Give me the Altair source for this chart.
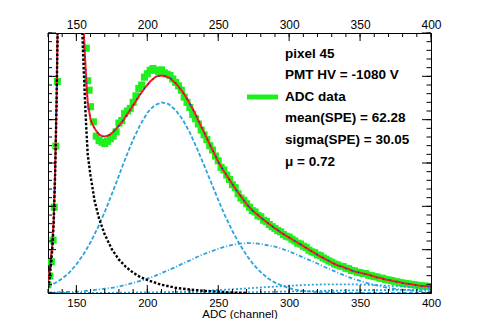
import altair as alt
import pandas as pd

# ---------------- values ----------------
x_major = [150, 200, 250, 300, 350, 400]
x_minor = list(range(130, 401, 10))
y_major = [0, 0.001, 0.002, 0.003, 0.004, 0.005, 0.006]
y_minor = [i * 0.0002 for i in range(31)]

# ADC data (green squares)
data_x = [130, 131.3, 132.4, 133.6, 134.4, 135.5, 136.6, 157, 158, 159] + list(range(160, 401, 2))
data_y = [0.00019, 0.00039, 0.00072, 0.00122, 0.00198, 0.00339, 0.00488, 0.00565, 0.00490, 0.00468,
          0.00430, 0.00395, 0.00362, 0.00352, 0.00348, 0.00345, 0.00350, 0.00356, 0.00362, 0.00372,
          0.00392, 0.00398, 0.00414, 0.00420, 0.00426, 0.00440, 0.00455, 0.00472, 0.00480, 0.00498,
          0.00506, 0.00514, 0.00518, 0.00514, 0.00511, 0.00515, 0.00508, 0.00505, 0.00502, 0.00494,
          0.00486, 0.00478, 0.00468, 0.00452, 0.00440, 0.00428, 0.00412, 0.00402, 0.00390, 0.00376,
          0.00365, 0.00354, 0.00340, 0.00330, 0.00316, 0.00305, 0.00290, 0.00284, 0.00272, 0.00262,
          0.00250, 0.00243, 0.00229, 0.00219, 0.00214, 0.00206, 0.00198, 0.00190, 0.00187, 0.00179,
          0.00176, 0.00168, 0.00165, 0.00158, 0.00153, 0.00149, 0.00144, 0.00141, 0.00135, 0.00131,
          0.00129, 0.00124, 0.00120, 0.00115, 0.00113, 0.00108, 0.00105, 0.00099, 0.00095, 0.00093,
          0.00088, 0.00086, 0.00081, 0.00078, 0.00074, 0.00071, 0.00067, 0.00065, 0.00062, 0.00061,
          0.00057, 0.00056, 0.00052, 0.00051, 0.00048, 0.00047, 0.00045, 0.00045, 0.00041, 0.00040,
          0.00038, 0.00037, 0.00034, 0.00034, 0.00031, 0.00030, 0.00029, 0.00027, 0.00026, 0.00024,
          0.00023, 0.00022, 0.00021, 0.00020, 0.00019, 0.00018, 0.00017, 0.00016, 0.00016, 0.00015,
          0.00015]

# total fit (red)
fit_x = [130, 131, 132, 133, 134, 135, 136, 137, 138, 145, 152, 153, 154, 155, 156, 157, 158] + list(range(160, 401, 2))
fit_y = [0.00025, 0.00045, 0.00078, 0.0011, 0.0017, 0.0028, 0.0044, 0.0066, 0.0098, 0.03,
         0.0096, 0.0082, 0.0071, 0.0062, 0.0055, 0.0049, 0.0044,
         0.00400, 0.00385, 0.00374, 0.00366, 0.00362, 0.00361, 0.00363, 0.00366, 0.00372, 0.00379,
         0.00386, 0.00394, 0.00403, 0.00413, 0.00423, 0.00433, 0.00443, 0.00454, 0.00463, 0.00472,
         0.00480, 0.00488, 0.00494, 0.00499, 0.00501, 0.00502, 0.00501, 0.00499, 0.00496, 0.00490,
         0.00484, 0.00476, 0.00468, 0.00459, 0.00448, 0.00437, 0.00425, 0.00412, 0.00398, 0.00384,
         0.00371, 0.00357, 0.00343, 0.00330, 0.00317, 0.00303, 0.00292, 0.00281, 0.00271, 0.00261,
         0.00251, 0.00241, 0.00232, 0.00223, 0.00214, 0.00205, 0.00198, 0.00191, 0.00185, 0.00180,
         0.00174, 0.00169, 0.00164, 0.00159, 0.00154, 0.00149, 0.00145, 0.00140, 0.00136, 0.00132,
         0.00128, 0.00124, 0.00120, 0.00116, 0.00112, 0.00108, 0.00104, 0.00100, 0.00096, 0.00092,
         0.00088, 0.00084, 0.00081, 0.00077, 0.00074, 0.00070, 0.00067, 0.00064, 0.00062, 0.00060,
         0.00057, 0.00055, 0.00052, 0.00050, 0.00048, 0.00047, 0.00045, 0.00044, 0.00042, 0.00040,
         0.00038, 0.00036, 0.00035, 0.00033, 0.00031, 0.00030, 0.00029, 0.00027, 0.00026, 0.00025,
         0.00023, 0.00022, 0.00021, 0.00020, 0.00019, 0.00018, 0.00017, 0.00016, 0.00016, 0.00015,
         0.00015]

# pedestal (black dashed)
ped_x = [130, 131, 132, 133, 134, 135, 136, 137, 138, 145, 152, 153, 154, 155, 156, 157, 158, 160,
         163, 166, 170, 175, 180, 185, 190, 195, 200, 210, 220, 230, 240, 250, 260, 270]
ped_y = [0.00012, 0.0003, 0.00062, 0.0010, 0.0016, 0.0027, 0.0043, 0.0065, 0.0098, 0.03,
         0.0088, 0.0074, 0.0062, 0.0053, 0.0045, 0.0038, 0.0032, 0.0027,
         0.0021, 0.00172, 0.00135, 0.00101, 0.00077, 0.0006, 0.00047, 0.00037, 0.00030,
         0.00019, 0.00012, 0.00008, 0.00005, 0.00003, 0.00001, 0.0]

# n-photoelectron components (blue dashed), on a 5-channel grid
pe_x = list(range(130, 401, 5))
pe1_y = [0.00015, 0.00023, 0.00033, 0.00047, 0.00066, 0.00089, 0.00117, 0.00150, 0.00187, 0.00228,
         0.00271, 0.00314, 0.00354, 0.00388, 0.00416, 0.00433, 0.00440, 0.00436, 0.00422, 0.00400,
         0.00370, 0.00334, 0.00295, 0.00255, 0.00215, 0.00177, 0.00143, 0.00113, 0.00087, 0.00065,
         0.00048, 0.00034, 0.00024, 0.00017, 0.00011, 0.00007, 0.00005, 0.00003, 0.00002, 0.000015,
         0.00001, 0.000005, 0, 0, 0, 0, 0, 0, 0, 0, 0, 0, 0, 0, 0]
pe2_y = [0.00001, 0.000015, 0.00002, 0.000025, 0.00003, 0.00004, 0.00006, 0.00008, 0.00010, 0.00012,
         0.00015, 0.00019, 0.00023, 0.00028, 0.00033, 0.00039, 0.00046, 0.00053, 0.00060, 0.00068,
         0.00075, 0.00083, 0.00090, 0.00096, 0.00102, 0.00107, 0.00111, 0.00114, 0.00115, 0.00115,
         0.00113, 0.00110, 0.00107, 0.00102, 0.00096, 0.00089, 0.00082, 0.00075, 0.00068, 0.00060,
         0.00053, 0.00046, 0.00039, 0.00033, 0.00028, 0.00023, 0.00019, 0.00015, 0.00012, 0.000095,
         0.000075, 0.00006, 0.000044, 0.000034, 0.000025]
pe3_y = [0, 0, 0, 0, 0.000001, 0.000001, 0.000002, 0.000003, 0.000004, 0.000005,
         0.000006, 0.000008, 0.00001, 0.000012, 0.000014, 0.000016, 0.000019, 0.000022, 0.000026, 0.00003,
         0.000036, 0.000042, 0.000049, 0.000057, 0.000066, 0.000075, 0.000085, 0.000095, 0.000106, 0.000116,
         0.000127, 0.000138, 0.000148, 0.000158, 0.000167, 0.000175, 0.000183, 0.00019, 0.000195, 0.000198,
         0.0002, 0.0002, 0.0002, 0.000198, 0.000195, 0.00019, 0.000183, 0.000175, 0.000167, 0.000158,
         0.000148, 0.000138, 0.000127, 0.000116, 0.000106]
pe4_y = [0, 0, 0, 0, 0, 0, 0, 0, 0, 0, 0, 0, 0, 0,
         0.000001, 0.000001, 0.000002, 0.000002, 0.000003, 0.000003, 0.000004, 0.000005, 0.000006, 0.000007,
         0.000008, 0.00001, 0.000012, 0.000014, 0.000016, 0.000018, 0.000021, 0.000024, 0.000027, 0.00003,
         0.000034, 0.000037, 0.000041, 0.000044, 0.000048, 0.000051, 0.000054, 0.000057, 0.00006, 0.000062,
         0.000064, 0.000066, 0.000067, 0.000068, 0.000069, 0.00007, 0.00007, 0.00007, 0.00007, 0.00007,
         0.00007]

legend_lines = ["pixel 45", "PMT HV = -1080 V", "ADC data", "mean(SPE) = 62.28",
                "sigma(SPE) = 30.05", "\u03bc = 0.72"]
x_title = "ADC (channel)"

# ---------------- chart ----------------
W, H = 383, 260
FONT = "Liberation Sans"
GREEN = "#1ef01e"
BLUE = "#2ba3dc"

xs = alt.Scale(domain=[130, 400], nice=False, zero=False)
ys = alt.Scale(domain=[0, 0.006], nice=False, zero=False)

data_df = pd.DataFrame({"x": data_x, "y": data_y})
fit_df = pd.DataFrame({"x": fit_x, "y": fit_y})
ped_df = pd.DataFrame({"x": ped_x, "y": ped_y})
pe_df = pd.DataFrame({"x": pe_x, "pe1": pe1_y, "pe2": pe2_y, "pe3": pe3_y, "pe4": pe4_y})

ax_common = dict(ticks=False, tickSize=0, domain=False, grid=False,
                 labelFont=FONT, labelColor="black", labelFlush=False)

bottom_axis = alt.Axis(orient="bottom", values=x_major, labelPadding=4, labelFontSize=11.5,
                       title=x_title, titleFont=FONT, titleFontSize=11.5, titleFontWeight="normal",
                       titleColor="black", titlePadding=0, **ax_common)
top_axis = alt.Axis(orient="top", values=x_major, labelPadding=2, labelFontSize=12, title=None,
                    **ax_common)
left_axis = alt.Axis(orient="left", values=y_major, format=".3~f", labelPadding=3, labelFontSize=12,
                     title=None, **ax_common)

points = alt.Chart(data_df).mark_square(size=50, color=GREEN, opacity=1, clip=True).encode(
    x=alt.X("x:Q", scale=xs, axis=bottom_axis),
    y=alt.Y("y:Q", scale=ys, axis=left_axis),
)

fit = alt.Chart(fit_df).mark_line(color="#ff1a1a", strokeWidth=2, clip=True).encode(
    x=alt.X("x:Q", scale=xs, axis=top_axis), y=alt.Y("y:Q", scale=ys, axis=None))
fit_dots = alt.Chart(fit_df).mark_line(color="#2230c0", strokeWidth=1.4, strokeDash=[1.5, 5],
                                       clip=True).encode(
    x=alt.X("x:Q", scale=xs, axis=None), y=alt.Y("y:Q", scale=ys, axis=None))

def comp(field, dash):
    return alt.Chart(pe_df).mark_line(color=BLUE, strokeWidth=1.8, strokeDash=dash, clip=True).encode(
        x=alt.X("x:Q", scale=xs, axis=None), y=alt.Y(f"{field}:Q", scale=ys, axis=None))

pe1 = comp("pe1", [4, 2])
pe2 = comp("pe2", [4, 2, 1, 2])
pe3 = comp("pe3", [2, 2])
pe4 = comp("pe4", [2, 2])

ped = alt.Chart(ped_df).mark_line(color="black", strokeWidth=2.4, strokeDash=[2.5, 1.8],
                                  clip=True).encode(
    x=alt.X("x:Q", scale=xs, axis=None), y=alt.Y("y:Q", scale=ys, axis=None))

# inward ticks on all four sides
xmaj_df = pd.DataFrame({"x": x_major})
xmin_df = pd.DataFrame({"x": x_minor})
ymaj_df = pd.DataFrame({"y": y_major})
ymin_df = pd.DataFrame({"y": y_minor})

def xticks(df, y0, y1):
    return alt.Chart(df).mark_rule(color="black", strokeWidth=1).encode(
        x=alt.X("x:Q", scale=xs, axis=None), y=alt.value(y0), y2=alt.value(y1))

def yticks(df, x0, x1):
    return alt.Chart(df).mark_rule(color="black", strokeWidth=1).encode(
        y=alt.Y("y:Q", scale=ys, axis=None), x=alt.value(x0), x2=alt.value(x1))

ticks = [xticks(xmaj_df, H, H - 8), xticks(xmin_df, H, H - 4),
         xticks(xmaj_df, 0, 8), xticks(xmin_df, 0, 4),
         yticks(ymaj_df, 0, 8), yticks(ymin_df, 0, 4),
         yticks(ymaj_df, W, W - 9), yticks(ymin_df, W, W - 4.5)]

# legend / info text
one = pd.DataFrame({"a": [0]})
texts = []
for i, line in enumerate(legend_lines):
    texts.append(alt.Chart(pd.DataFrame({"t": [line]})).mark_text(
        align="left", baseline="middle", font=FONT, fontSize=13.5, fontWeight="bold",
        color="black").encode(text="t:N", x=alt.value(237), y=alt.value(20.5 + 21.6 * i)))
legend_line = alt.Chart(one).mark_rule(color=GREEN, strokeWidth=5).encode(
    x=alt.value(199), x2=alt.value(230), y=alt.value(64))

chart = alt.layer(
    points, fit, fit_dots, pe1, pe2, pe3, pe4, ped, *ticks, legend_line, *texts
).resolve_axis(x="independent").properties(
    width=W, height=H,
    autosize=alt.AutoSizeParams(type="none"),
    padding={"left": 40, "top": 25, "right": 41, "bottom": 26},
    background="white",
).configure_view(stroke="black", strokeWidth=1)

chart.save("out.html", embed_options={"renderer": "svg", "actions": False})
